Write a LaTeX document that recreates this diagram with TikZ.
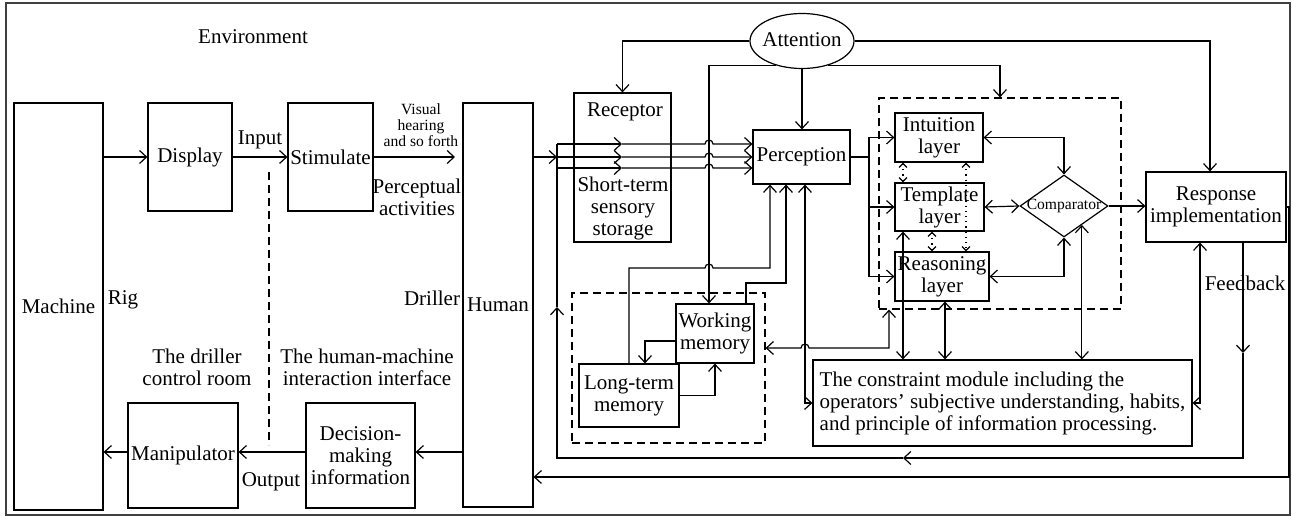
\documentclass[tikz,border=0pt]{standalone}
\usepackage{fontspec}
\setmainfont{Liberation Serif}
\usetikzlibrary{arrows.meta,shapes.geometric,calc}
\begin{document}
\begin{tikzpicture}[x=0.5pt,y=-0.5pt,
  every node/.style={font=\fontsize{10.5}{11}\selectfont},
  ln/.style={line width=0.6pt},
  box/.style={draw,line width=0.6pt,inner sep=1pt,align=center},
  lbl/.style={inner sep=0pt,align=center},
  small/.style={font=\fontsize{7.8}{8}\selectfont},
  dbox/.style={draw,line width=0.6pt,dash pattern=on 4pt off 2.5pt,inner sep=0pt},
  dotl/.style={line width=0.6pt,dotted,{Straight Barb[length=2pt,width=4pt]}-{Straight Barb[length=2pt,width=4pt]}},
  >={Straight Barb[length=3.5pt,width=6.5pt]},
]
\useasboundingbox (0,0) rectangle (1292,517);
\draw[black!75,line width=0.6pt] (6,3) rectangle (1290,515);

% left part
\node[box,minimum width=44.5pt,minimum height=203.5pt] (machine) at (58.5,306.5) {Machine};
\node[box,minimum width=42pt,minimum height=54pt] (display) at (190,157) {Display};
\node[box,minimum width=42.5pt,minimum height=54pt] (stim) at (330.5,157) {Stimulate};
\node[box,minimum width=35pt,minimum height=202pt] (human) at (498,305) {Human};
\node[box,minimum width=55pt,minimum height=52.5pt] (manip) at (183,455.5) {Manipulator};
\node[box,minimum width=54.5pt,minimum height=52.5pt] (dec) at (360.5,455.5) {Decision-\\making\\information};

\node[lbl] (env) at (253,37) {Environment};
\node[lbl] (inp) at (260,140) {Input};
\node[lbl,small] (vis) at (421,125) {Visual\\hearing\\and so forth};
\node[lbl] (pa) at (417,197) {Perceptual\\activities};
\node[lbl] (rig) at (123,300) {Rig};
\node[lbl] (drl) at (432,298) {Driller};
\node[lbl] (dcr) at (197,367) {The driller\\control room};
\node[lbl] (hmi) at (367,367) {The human-machine\\interaction interface};
\node[lbl] (outl) at (271,482) {Output};

% right part
\node[draw,ellipse,ln,minimum width=52pt,minimum height=27.5pt,inner sep=0pt] (att) at (802,41) {};
\node[lbl] (attl) at (802,40) {Attention};
\node[box,minimum width=48.5pt,minimum height=74.5pt] (rec) at (622.5,167.5) {};
\node[lbl] (recl) at (625,112) {Receptor};
\node[lbl] (stsl) at (623,208) {Short-term\\sensory\\storage};
\node[box,minimum width=48.5pt,minimum height=27pt] (perc) at (801.5,157) {Perception};
\node[dbox,minimum width=96.5pt,minimum height=75pt] (memd) at (668.5,368) {};
\node[box,fill=white,minimum width=39pt,minimum height=29.5pt] (wm) at (715,333.5) {Working\\memory};
\node[box,minimum width=50pt,minimum height=31.5pt] (ltm) at (629,395.5) {Long-term\\memory};
\node[dbox,minimum width=121pt,minimum height=105.5pt] (layd) at (1000,203.5) {};
\node[box,minimum width=44pt,minimum height=24.5pt] (intu) at (939,137.5) {Intuition\\layer};
\node[box,minimum width=44.5pt,minimum height=24pt] (templ) at (939.5,207) {Template\\layer};
\node[box,minimum width=47pt,minimum height=24.5pt] (reas) at (942,276.5) {Reasoning\\layer};
\node[draw,diamond,ln,minimum width=44pt,minimum height=31pt,inner sep=0pt] (comp) at (1064,206) {};
\node[lbl,small] (compl) at (1064,206) {Comparator};
\node[box,minimum width=70pt,minimum height=35pt] (resp) at (1216,207) {Response\\implementation};
\node[box,minimum width=189.5pt,minimum height=43pt,align=left] (cons) at (1002.5,403) {The constraint module including the\\operators’ subjective understanding, habits,\\and principle of information processing.};
\node[lbl] (fbl) at (1245,283) {Feedback};

% coordinates
\coordinate (vhend) at (455,157);
\coordinate (youty) at (0,452);
\coordinate (dA) at (269,172);
\coordinate (dB) at (269,445);
\coordinate (c557) at (557,0);
\coordinate (fb1) at (1243,353);
\coordinate (fb2) at (1243,458);
\coordinate (fb3) at (903,458);
\coordinate (fb4) at (557,458);
\coordinate (fb5) at (557,307);
\coordinate (fb6) at (557,144);
\coordinate (c709) at (709,0);
\coordinate (pj) at (869,157);
\coordinate (c903) at (903,0);
\coordinate (c932) at (932,0);
\coordinate (c966) at (966,0);
\coordinate (c945) at (945,0);
\coordinate (cp) at ($(comp.east)!0.6!(comp.south)$);
\coordinate (c889) at (889,348);
\coordinate (hp2) at (809,348);
\coordinate (c805) at (805,0);
\coordinate (l1) at (629,268);
\coordinate (l2) at (705,268);
\coordinate (c770) at (770,0);
\coordinate (w1) at (746,283);
\coordinate (c786) at (786,0);
\coordinate (w2) at (645,341);
\coordinate (c1200) at (1200,0);
\coordinate (r1) at (1289,477);

% left connectors
\draw[ln,->] (machine.east |- display.west) -- (display.west);
\draw[ln,->] (display.east) -- (stim.west);
\draw[ln,->] (stim.east) -- (vhend);
\draw[ln,->] (human.west |- youty) -- (dec.east |- youty);
\draw[ln,->] (dec.west |- youty) -- (manip.east |- youty);
\draw[ln,->] (manip.west |- youty) -- (machine.east |- youty);
\draw[ln,dash pattern=on 4pt off 2.5pt] (dA) -- (dB);

% human to perception
\draw[ln,->] (human.east |- perc.west) -- (c557 |- perc.west);
\foreach \yy [count=\i] in {144,157,168} {
  \coordinate (s\i) at (557,\yy);
  \coordinate (m\i) at (622,\yy);
  \coordinate (h\i) at (705,\yy);
  \draw[ln,->] (s\i) -- (m\i);
  \draw[ln,->] (m\i) -- (h\i) arc[start angle=180,end angle=0,radius=2pt] -- (perc.west |- m\i);
}

% feedback loop
\draw[ln,->] (resp.south -| fb1) -- (fb1);
\draw[ln,->] (fb1) -- (fb2) -- (fb3);
\draw[ln,->] (fb3) -- (fb4) -- (fb5);
\draw[ln] (fb5) -- (fb6);

% attention
\draw[ln,->] (att.west) -| (rec.north);
\draw[ln,->] (att.south) -- (att.south |- perc.north);
\draw[ln,->] (att.east) -| ([xshift=-3pt]resp.north);
\draw[ln,->] (att.-137) -| (wm.north -| c709);
\draw[ln,->] (att.-43) -| (layd.north);

% layers
\draw[ln] (perc.east) -- (pj);
\draw[ln,->] (pj) |- (intu.west);
\draw[ln,->] (pj) |- (templ.west);
\draw[ln,->] (pj) |- (reas.west);
\draw[ln,<->] (intu.east) -| (comp.north);
\draw[ln,<->] (templ.east) -- (comp.west);
\draw[ln,<->] (reas.east) -| (comp.south);
\draw[ln,->] (comp.east) -- (resp.west |- comp.east);
\draw[dotl] (intu.south -| c903) -- (templ.north -| c903);
\draw[dotl] (intu.south -| c966) -- (reas.north -| c966);
\draw[dotl] (templ.south -| c932) -- (reas.north -| c932);

% to constraint module
\draw[ln,<->] (templ.south -| c903) -- (cons.north -| c903);
\draw[ln,<->] (reas.south -| c945) -- (cons.north -| c945);
\draw[ln,<->] (cp) -- (cons.north -| cp);
\draw[ln,<->] (layd.south -| c889) -- (c889) -- (hp2) arc[start angle=0,end angle=180,radius=2pt] -- (memd.east |- c889);
\draw[ln,<->] (perc.south -| c805) |- (cons.west);
\draw[ln,<->] (resp.south -| c1200) |- (cons.east);
\draw[ln,->] (resp.east) -| (r1) -- (human.east |- r1);

% memories
\draw[ln,->] (ltm.north) -- (l1) -- (l2) arc[start angle=180,end angle=0,radius=2pt] -- (c770 |- l1) -- (perc.south -| c770);
\draw[ln,->] (wm.north -| w1) -- (w1) -| (perc.south -| c786);
\draw[ln,->] (wm.west |- w2) -| (ltm.north -| w2);
\draw[ln,->] (ltm.east) -| (wm.south);
\end{tikzpicture}
\end{document}
